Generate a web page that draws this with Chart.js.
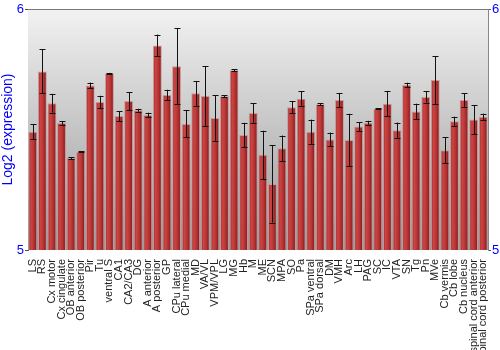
<!DOCTYPE html>
<html>
<head>
<meta charset="utf-8">
<script src="https://cdn.jsdelivr.net/npm/chart.js@4"></script>
<style>
  html, body { margin: 0; padding: 0; background: #fff; }
  #wrap { width: 500px; height: 350px; }
</style>
</head>
<body>
<div id="wrap"><canvas id="chart"></canvas></div>
<script>
const regions = [
  "LS", "RS", "Cx motor", "Cx cingulate", "OB anterior", "OB posterior", "Pir", "Tu",
  "ventral S", "CA1", "CA2/CA3", "DG", "A anterior", "A posterior", "GP", "CPu lateral",
  "CPu medial", "MD", "VA/VL", "VPM/VPL", "LG", "MG", "Hb", "M", "ME", "SCN", "MPA",
  "SO", "Pa", "SPa ventral", "SPa dorsal", "DM", "VMH", "Arc", "LH", "PAG", "SC", "IC",
  "VTA", "SN", "Tg", "Pn", "MVe", "Cb vermis", "Cb lobe", "Cb nucleus",
  "spinal cord anterior", "spinal cord posterior"
];

const expression = [
  5.491, 5.741, 5.609, 5.527, 5.382, 5.407, 5.683, 5.614,
  5.732, 5.556, 5.618, 5.580, 5.560, 5.849, 5.643, 5.762,
  5.523, 5.650, 5.639, 5.548, 5.638, 5.746, 5.477, 5.568, 5.395, 5.274, 5.422,
  5.592, 5.628, 5.491, 5.605, 5.459, 5.622, 5.456, 5.512, 5.528, 5.586, 5.607,
  5.497, 5.685, 5.575, 5.635, 5.705, 5.414, 5.534, 5.622,
  5.541, 5.553
];

const stdError = [
  0.031, 0.091, 0.039, 0.007, 0.004, 0.002, 0.012, 0.026,
  0.003, 0.021, 0.037, 0.006, 0.010, 0.045, 0.022, 0.158,
  0.056, 0.051, 0.124, 0.095, 0.004, 0.005, 0.051, 0.040, 0.100, 0.160, 0.053,
  0.025, 0.030, 0.050, 0.005, 0.028, 0.029, 0.109, 0.018, 0.008, 0.002, 0.053,
  0.032, 0.009, 0.032, 0.023, 0.100, 0.055, 0.019, 0.028,
  0.061, 0.013
];

const yTicks = [5, 6];

const blue = "#0000ff";

// grey gradient behind the plot + frame on top
const backdrop = {
  id: "backdrop",
  beforeDatasetsDraw(chart) {
    const { ctx, chartArea: a } = chart;
    const g = ctx.createLinearGradient(0, a.top, 0, a.bottom);
    g.addColorStop(0, "#f2f2f2");
    g.addColorStop(1, "#979797");
    ctx.save();
    ctx.fillStyle = g;
    ctx.fillRect(a.left, a.top, a.right - a.left, a.bottom - a.top);
    ctx.restore();
  },
  afterDatasetsDraw(chart) {
    const { ctx, chartArea: a } = chart;
    ctx.save();
    ctx.strokeStyle = "#777";
    ctx.lineWidth = 1;
    ctx.beginPath();
    ctx.moveTo(a.left, a.top + 0.5);
    ctx.lineTo(a.right, a.top + 0.5);
    ctx.stroke();
    ctx.restore();
  }
};

// error bars from the y scale
const errorBars = {
  id: "errorBars",
  afterDatasetsDraw(chart) {
    const { ctx } = chart;
    const y = chart.scales.y;
    const meta = chart.getDatasetMeta(0);
    ctx.save();
    ctx.strokeStyle = "#111";
    ctx.lineWidth = 1;
    meta.data.forEach((bar, i) => {
      const x = Math.round(bar.x) + 0.5;
      const hi = y.getPixelForValue(expression[i] + stdError[i]);
      const lo = y.getPixelForValue(expression[i] - stdError[i]);
      ctx.beginPath();
      ctx.moveTo(x, hi);
      ctx.lineTo(x, lo);
      ctx.moveTo(x - 3, Math.round(hi) + 0.5);
      ctx.lineTo(x + 3, Math.round(hi) + 0.5);
      ctx.moveTo(x - 3, Math.round(lo) + 0.5);
      ctx.lineTo(x + 3, Math.round(lo) + 0.5);
      ctx.stroke();
    });
    ctx.restore();
  }
};

function barFill(context) {
  const chart = context.chart;
  const el = chart.getDatasetMeta(0).data[context.dataIndex];
  if (!el || !el.width) return "#b53535";
  const x0 = el.x - el.width / 2;
  const g = chart.ctx.createLinearGradient(x0, 0, x0 + el.width, 0);
  g.addColorStop(0, "#a02828");
  g.addColorStop(0.3, "#cc4444");
  g.addColorStop(0.6, "#b83434");
  g.addColorStop(1, "#7e1616");
  return g;
}

const ctx = document.getElementById("chart").getContext("2d");
const chart = new Chart(ctx, {
  type: "bar",
  data: {
    labels: regions,
    datasets: [
      {
        label: "Log2 (expression)",
        data: expression,
        backgroundColor: barFill,
        borderColor: "#c49a9a",
        borderWidth: 1,
        categoryPercentage: 1,
        barPercentage: 0.92,
      },
    ],
  },
  options: {
    responsive: true,
    maintainAspectRatio: false,
    animation: false,
    layout: { padding: { top: 9, right: 0, left: 0, bottom: 0 } },
    plugins: {
      legend: { display: false },
      tooltip: { enabled: false },
    },
    scales: {
      x: {
        grid: { display: false },
        border: { display: false },
        ticks: {
          autoSkip: false,
          minRotation: 90,
          maxRotation: 90,
          padding: 1,
          color: "#222",
          font: { family: "Liberation Sans", size: 11 },
        },
        afterFit(s) { s.height = 100; },
      },
      y: {
        position: "left",
        min: 5,
        max: 6,
        afterBuildTicks(s) { s.ticks = yTicks.map((v) => ({ value: v })); },
        grid: { drawOnChartArea: false, drawTicks: true, tickLength: 3, color: "#555" },
        border: { display: true, color: "#555" },
        ticks: {
          color: blue,
          padding: 1,
          font: { family: "Liberation Sans", size: 13 },
        },
        title: {
          display: true,
          text: "Log2 (expression)",
          color: blue,
          padding: 0,
          font: { family: "Liberation Sans", size: 14 },
        },
        afterFit(s) { s.width = 28; },
      },
      y2: {
        position: "right",
        min: 5,
        max: 6,
        afterBuildTicks(s) { s.ticks = yTicks.map((v) => ({ value: v })); },
        grid: { drawOnChartArea: false, drawTicks: true, tickLength: 3, color: "#555" },
        border: { display: true, color: "#888" },
        ticks: {
          color: blue,
          padding: 1,
          font: { family: "Liberation Sans", size: 13 },
        },
        afterFit(s) { s.width = 12; },
      },
    },
  },
  plugins: [backdrop, errorBars],
});
chart.update();
</script>
</body>
</html>
